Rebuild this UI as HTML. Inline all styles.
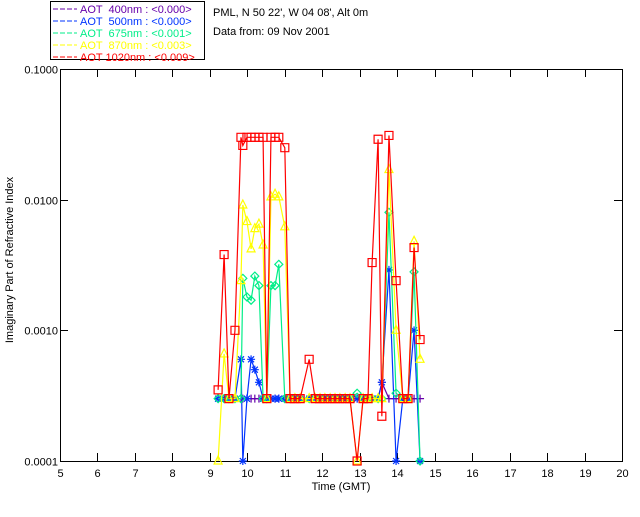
<!DOCTYPE html>
<html><head><meta charset="utf-8"><style>
body{margin:0;background:#fff;}
svg text{font-family:"Liberation Sans",sans-serif;font-size:11px;}
</style></head><body>
<svg id="chart" width="640" height="512" xmlns="http://www.w3.org/2000/svg">
<rect x="0" y="0" width="640" height="512" fill="#fff"/>
<g>
<rect x="50.5" y="1.5" width="154" height="58" fill="#fff" stroke="#000"/>
</g>
<text x="213" y="16" fill="#000">PML, N 50 22', W 04 08', Alt 0m</text>
<text x="213" y="35" fill="#000">Data from: 09 Nov 2001</text>
<g id="axes"></g>
<g id="plot"></g>
<text x="341" y="490" text-anchor="middle">Time (GMT)</text>
<text transform="translate(13,260) rotate(-90)" text-anchor="middle" font-size="10">Imaginary Part of Refractive Index</text>
</svg>
<script>
const times=[9.22,9.38,9.51,9.67,9.83,9.88,9.99,10.10,10.20,10.31,10.42,10.52,10.63,10.74,10.84,11.00,11.14,11.27,11.41,11.65,11.81,11.94,12.07,12.21,12.34,12.47,12.61,12.74,12.93,13.09,13.22,13.33,13.49,13.59,13.78,13.97,14.15,14.29,14.45,14.61];
const v400=[0.0003,0.0003,0.0003,0.0003,0.0003,0.0003,0.0003,0.0003,0.0003,0.0003,0.0003,0.0003,0.0003,0.0003,0.0003,0.0003,0.0003,0.0003,0.0003,0.0003,0.0003,0.0003,0.0003,0.0003,0.0003,0.0003,0.0003,0.0003,0.0003,0.0003,0.0003,0.0003,0.0003,0.0004,0.0003,0.0003,0.0003,0.0003,0.0003,0.0003];
const v500=[0.0003,0.0003,0.0003,0.0003,0.0006,0.0001,0.0003,0.0006,0.0005,0.0004,0.0003,0.0003,0.0003,0.0003,0.0003,0.0003,0.0003,0.0003,0.0003,0.0003,0.0003,0.0003,0.0003,0.0003,0.0003,0.0003,0.0003,0.0003,0.0003,0.0003,0.0003,0.0003,0.0003,0.0004,0.0029,0.0001,0.0003,0.0003,0.001,0.0001];
const v675=[0.0003,0.0003,0.0003,0.0003,0.0003,0.0025,0.0018,0.0017,0.0026,0.0022,0.0003,0.0003,0.0022,0.0022,0.0032,0.0003,0.0003,0.0003,0.0003,0.0003,0.0003,0.0003,0.0003,0.0003,0.0003,0.0003,0.0003,0.0003,0.00033,0.0003,0.0003,0.0003,0.0003,0.0003,0.008,0.00033,0.0003,0.0003,0.0028,0.0001];
const v870=[0.0001,0.00066,0.0003,0.0003,0.0024,0.0091,0.0068,0.0042,0.006,0.0065,0.0045,0.0003,0.0105,0.011,0.0105,0.0062,0.0003,0.0003,0.0003,0.0003,0.0003,0.0003,0.0003,0.0003,0.0003,0.0003,0.0003,0.0003,0.0001,0.0003,0.0003,0.0003,0.0003,0.0003,0.017,0.001,0.0003,0.0003,0.0048,0.0006];
const v1020=[0.00035,0.0038,0.0003,0.001,0.03,0.026,0.03,0.03,0.03,0.03,0.03,0.0003,0.03,0.03,0.03,0.025,0.0003,0.0003,0.0003,0.0006,0.0003,0.0003,0.0003,0.0003,0.0003,0.0003,0.0003,0.0003,0.0001,0.0003,0.0003,0.0033,0.029,0.00022,0.031,0.0024,0.0003,0.0003,0.0043,0.00085];
const xTicks=[5,6,7,8,9,10,11,12,13,14,15,16,17,18,19,20];
const yTicks=[0.0001,0.001,0.01,0.1];
const yTickLabels=["0.0001","0.0010","0.0100","0.1000"];
const legendLabels=["AOT  400nm : <0.000>","AOT  500nm : <0.000>","AOT  675nm : <0.001>","AOT  870nm : <0.003>","AOT 1020nm : <0.009>"];

const X0=60,X1=622,Y0=69,Y1=461;
const xs=t=>X0+(t-5)/15*(X1-X0);
const ys=v=>Y0+(-1-Math.log10(Math.max(v,1e-4)))/3*(Y1-Y0);
const NS="http://www.w3.org/2000/svg";
function mk(tag,attrs,parent){const e=document.createElementNS(NS,tag);for(const k in attrs)e.setAttribute(k,attrs[k]);parent.appendChild(e);return e;}
const svg=document.getElementById('chart');
const axes=document.getElementById('axes');
const plot=document.getElementById('plot');
const frame=mk('rect',{x:X0+.5,y:Y0+.5,width:X1-X0,height:Y1-Y0,fill:'none',stroke:'#000'},axes);


xTicks.forEach(t=>{
  const x=Math.round(xs(t))+.5;
  const tk=mk('path',{d:`M${x} ${Y1}v-8M${x} ${Y0}v8`,stroke:'#000'},axes);
  
  
  const lb=mk('text',{x:x,y:Y1+16,'text-anchor':'middle'},axes);lb.textContent=t;
  
  
});
yTicks.forEach((v,i)=>{
  const y=Math.round(ys(v))+.5;
  const tk=mk('path',{d:`M${X0} ${y}h8M${X1} ${y}h-8`,stroke:'#000'},axes);
  
  
  const lb=mk('text',{x:X0-2,y:y+4,'text-anchor':'end','font-size':10},axes);lb.textContent=yTickLabels[i];
  
  
});
const series=[[v400,'#6600aa','plus'],[v500,'#0033ff','star'],[v675,'#00ee88','diamond'],[v870,'#ffff00','tri'],[v1020,'#ff0000','square']];
function marker(type,x,y,c,g){
  let d='';
  if(type==='plus')d=`M${x-4} ${y}h8M${x} ${y-4}v8`;
  if(type==='star')d=`M${x-4} ${y}h8M${x} ${y-4}v8M${x-3} ${y-3}l6 6M${x-3} ${y+3}l6 -6`;
  if(type==='diamond')d=`M${x} ${y-4}l4 4l-4 4l-4 -4z`;
  if(type==='tri')d=`M${x} ${y-5}l4 8h-8z`;
  if(type==='square')d=`M${x-4} ${y-4}h8v8h-8z`;
  const m=mk('path',{d:d,stroke:c,fill:'none','stroke-width':1.2},g);
  
  
}
series.forEach((s,si)=>{
  const g=mk('g',{},plot);
  
  
  const pts=times.map((t,i)=>[xs(t),ys(s[0][i])]);
  const ln=mk('polyline',{points:pts.map(p=>p.join(',')).join(' '),fill:'none',stroke:s[1],'stroke-width':1.2},g);
  
  
  pts.forEach(p=>marker(s[2],p[0],p[1],s[1],g));
  const ly=9+si*12;
  const ll=mk('path',{d:`M53 ${ly}h24`,stroke:s[1],'stroke-dasharray':'5,2'},svg);
  
  
  const lt=mk('text',{x:80,y:ly+4,fill:s[1],'xml:space':'preserve'},svg);
  lt.style.whiteSpace='pre';
  lt.textContent=legendLabels[si];
  
  
});
</script>
</body></html>
